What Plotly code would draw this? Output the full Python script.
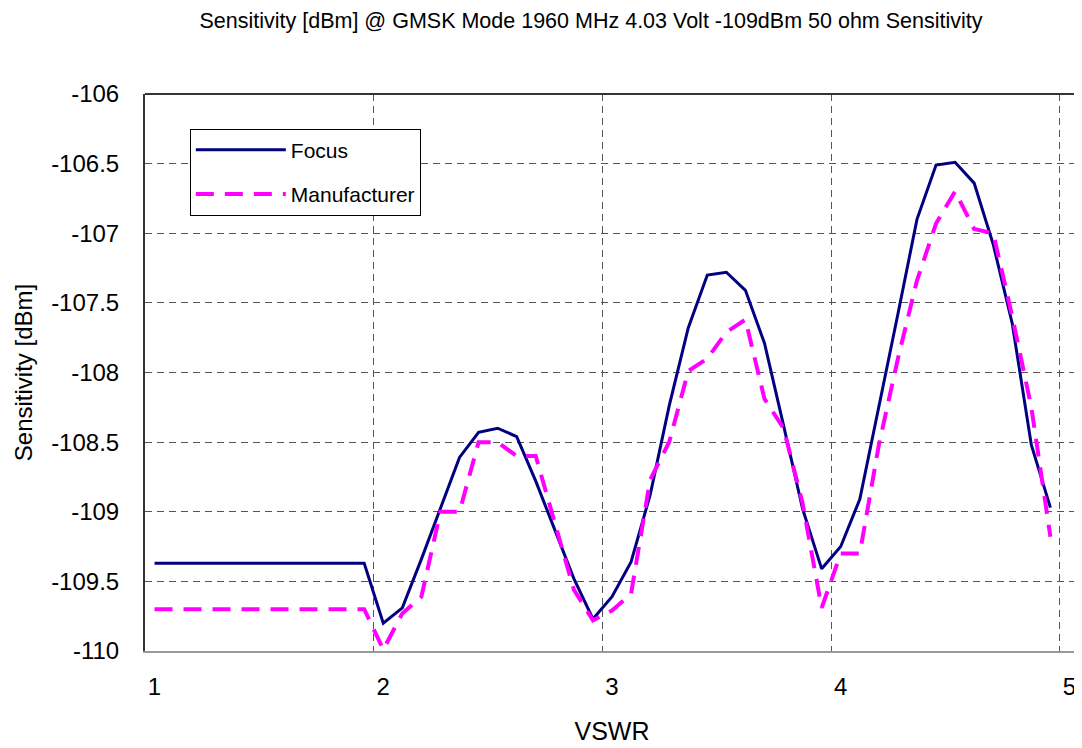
import plotly.graph_objects as go

# ---- data -------------------------------------------------------------
vswr_groups = [1, 2, 3, 4, 5]
points_per_group = 12
# category sequence (12 measurement steps per VSWR value, last group "5" has no data)
sweep_points = [f"{v}:{k}" for v in vswr_groups[:-1] for k in range(1, points_per_group + 1)] + ["5:1"]

focus = [
    -109.37, -109.37, -109.37, -109.37, -109.37, -109.37,
    -109.37, -109.37, -109.37, -109.37, -109.37, -109.37,
    -109.80, -109.69, -109.34, -108.98, -108.61, -108.43,
    -108.40, -108.46, -108.78, -109.13, -109.48, -109.77,
    -109.61, -109.36, -108.88, -108.24, -107.68, -107.30,
    -107.28, -107.41, -107.79, -108.38, -108.98, -109.41,
    -109.25, -108.91, -108.25, -107.58, -106.90, -106.51,
    -106.49, -106.64, -107.08, -107.65, -108.52, -108.97,
]
manufacturer = [
    -109.70, -109.70, -109.70, -109.70, -109.70, -109.70,
    -109.70, -109.70, -109.70, -109.70, -109.70, -109.70,
    -109.99, -109.73, -109.61, -109.00, -109.00, -108.50,
    -108.50, -108.60, -108.60, -109.08, -109.56, -109.78,
    -109.71, -109.59, -108.77, -108.50, -107.99, -107.90,
    -107.71, -107.62, -108.19, -108.40, -108.94, -109.69,
    -109.30, -109.30, -108.52, -107.90, -107.34, -106.93,
    -106.70, -106.97, -107.00, -107.60, -108.25, -109.18,
]

x_tick_positions = ["1:1", "2:1", "3:1", "4:1", "5:1"]
x_tick_labels = ["1", "2", "3", "4", "5"]
y_tick_values = [-110, -109.5, -109, -108.5, -108, -107.5, -107, -106.5, -106]
y_tick_labels = ["-110", "-109.5", "-109", "-108.5", "-108", "-107.5", "-107", "-106.5", "-106"]

title_text = "Sensitivity [dBm] @ GMSK Mode 1960 MHz 4.03 Volt -109dBm 50 ohm Sensitivity"

FONT = "Liberation Sans, Arial, sans-serif"

# page body has an 8px default margin; the figure is sized so it fills the window
W, H = 1074, 740

# ---- figure -----------------------------------------------------------
fig = go.Figure()
fig.add_trace(go.Scatter(
    x=sweep_points[:len(focus)], y=focus, mode="lines", name="Focus",
    line=dict(color="#000080", width=3), legendgroup="a",
))
fig.add_trace(go.Scatter(
    x=sweep_points[:len(manufacturer)], y=manufacturer, mode="lines", name="Manufacturer",
    line=dict(color="#FF00FF", width=4, dash="18px,11px"), legendgroup="b",
))

fig.update_layout(
    width=W, height=H,
    paper_bgcolor="white", plot_bgcolor="white",
    margin=dict(l=137, r=3, t=86, b=97),
    font=dict(family=FONT, color="black"),
    title=dict(text=title_text, x=583 / W, xanchor="center", y=1 - 12 / H, yanchor="middle",
               font=dict(size=21.5, family=FONT, color="black")),
    showlegend=True,
    legend=dict(
        x=0.048, y=0.938, xanchor="left", yanchor="top",
        bgcolor="white", bordercolor="black", borderwidth=1,
        font=dict(size=21, family=FONT, color="black"),
        itemwidth=90, traceorder="grouped", tracegroupgap=14,
    ),
    xaxis=dict(
        type="category", categoryorder="array", categoryarray=sweep_points,
        range=[-0.5, len(sweep_points) - 0.5],
        tickmode="array", tickvals=x_tick_positions, ticktext=x_tick_labels,
        tickson="boundaries", ticks="outside", ticklen=24, tickcolor="rgba(0,0,0,0)",
        tickangle=0, ticklabelstandoff=13,
        tickfont=dict(size=24, family=FONT, color="black"),
        showgrid=True, gridcolor="#555555", gridwidth=1, griddash="7px,5px",
        showline=True, linecolor="#9a9a9a", linewidth=2, zeroline=False,
        title=dict(text="VSWR", font=dict(size=25, family=FONT, color="black"), standoff=24),
        automargin=False,
    ),
    yaxis=dict(
        range=[-110, -106], tickmode="array", tickvals=y_tick_values, ticktext=y_tick_labels,
        ticks="outside", ticklen=19, tickcolor="rgba(0,0,0,0)",
        tickfont=dict(size=24, family=FONT, color="black"),
        showgrid=True, gridcolor="#555555", gridwidth=1, griddash="7px,5px",
        showline=True, linecolor="#333333", linewidth=2, zeroline=False,
        title=dict(text="Sensitivity [dBm]", font=dict(size=24, family=FONT, color="black"), standoff=12),
        automargin=False,
    ),
    shapes=[
        dict(type="line", xref="paper", yref="paper", x0=0, x1=1, y0=1, y1=1,
             line=dict(color="#333333", width=2)),
        dict(type="line", xref="paper", yref="paper", x0=1, x1=1, y0=0, y1=1,
             line=dict(color="#9a9a9a", width=2)),
    ],
)

fig.write_html("out.html")
